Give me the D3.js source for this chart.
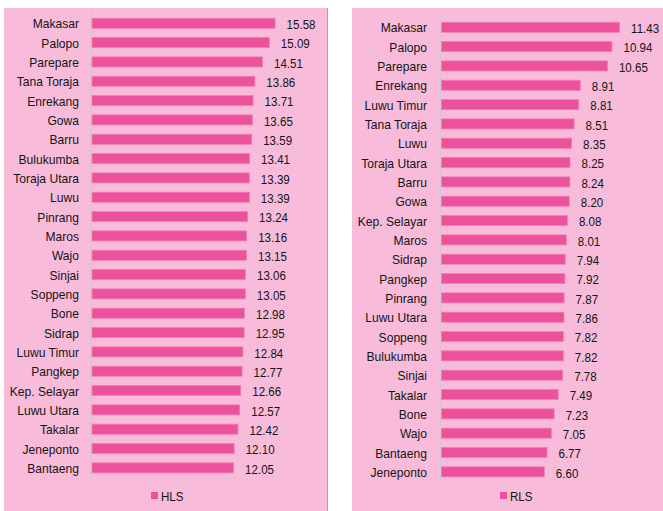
<!DOCTYPE html>
<html>
<head>
<meta charset="utf-8">
<title>HLS dan RLS</title>
<script src="https://cdn.jsdelivr.net/npm/d3@7"></script>
<style>
  body { margin: 0; background: #fff; }
  svg text { font-family: "Liberation Sans", Arial, sans-serif; font-size: 13px; fill: #141414; }
</style>
</head>
<body>
<div id="chart"></div>
<script>
// HLS (harapan lama sekolah) per kabupaten/kota
var hlsNames = ["Makasar", "Palopo", "Parepare", "Tana Toraja", "Enrekang", "Gowa", "Barru",
  "Bulukumba", "Toraja Utara", "Luwu", "Pinrang", "Maros", "Wajo", "Sinjai", "Soppeng", "Bone",
  "Sidrap", "Luwu Timur", "Pangkep", "Kep. Selayar", "Luwu Utara", "Takalar", "Jeneponto", "Bantaeng"];
var hlsValues = [15.58, 15.09, 14.51, 13.86, 13.71, 13.65, 13.59, 13.41, 13.39, 13.39, 13.24, 13.16,
  13.15, 13.06, 13.05, 12.98, 12.95, 12.84, 12.77, 12.66, 12.57, 12.42, 12.10, 12.05];

// RLS (rata-rata lama sekolah)
var rlsNames = ["Makasar", "Palopo", "Parepare", "Enrekang", "Luwu Timur", "Tana Toraja", "Luwu",
  "Toraja Utara", "Barru", "Gowa", "Kep. Selayar", "Maros", "Sidrap", "Pangkep", "Pinrang",
  "Luwu Utara", "Soppeng", "Bulukumba", "Sinjai", "Takalar", "Bone", "Wajo", "Bantaeng", "Jeneponto"];
var rlsValues = [11.43, 10.94, 10.65, 8.91, 8.81, 8.51, 8.35, 8.25, 8.24, 8.20, 8.08, 8.01, 7.94,
  7.92, 7.87, 7.86, 7.82, 7.82, 7.78, 7.49, 7.23, 7.05, 6.77, 6.60];

var bg = "#f8bcda", barColor = "#ec529c";

var svg = d3.select("#chart").append("svg")
    .attr("width", 663)
    .attr("height", 511);

// panel: box + where the plot sits inside
function drawPanel(names, values, key, p) {
  var g = svg.append("g");

  g.append("rect")
    .attr("x", p.left).attr("y", 8)
    .attr("width", p.right - p.left).attr("height", 503)
    .attr("fill", bg);

  var x = d3.scaleLinear()
      .domain([0, 1])
      .range([p.x0, p.x0 + p.perUnit]);
  var y = d3.scaleBand()
      .domain(names)
      .range([p.top, p.top + names.length * 19.33])
      .paddingInner(0.48)
      .paddingOuter(0.24);

  // category axis line
  g.append("line")
    .attr("x1", p.x0 - 0.5).attr("x2", p.x0 - 0.5)
    .attr("y1", p.top - 4).attr("y2", p.top + names.length * 19.33 + 1)
    .attr("stroke", "#d4c7cf").attr("stroke-width", 1.5);

  g.selectAll(".bar")
    .data(values)
    .enter().append("rect")
      .attr("class", "bar")
      .attr("x", x(0) + 0.5)
      .attr("y", function(d, i) { return y(names[i]); })
      .attr("width", function(d) { return x(d) - x(0); })
      .attr("height", y.bandwidth())
      .attr("fill", barColor)
      .attr("stroke", "#f27db5").attr("stroke-width", 0.8);

  g.selectAll(".cat")
    .data(names)
    .enter().append("text")
      .attr("text-anchor", "end")
      .attr("dy", "0.36em")
      .attr("transform", function(d) {
        return "translate(" + p.labelRight + "," + (y(d) + y.bandwidth() / 2 + 0.5) + ") scale(0.93,1)";
      })
      .text(function(d) { return d; });

  g.selectAll(".val")
    .data(values)
    .enter().append("text")
      .attr("dy", "0.36em")
      .attr("transform", function(d, i) {
        return "translate(" + (x(d) + 12) + "," + (y(names[i]) + y.bandwidth() / 2 + 1) + ") scale(0.89,1)";
      })
      .text(function(d) { return d.toFixed(2); });

  // legend
  g.append("rect")
    .attr("x", p.legendX).attr("y", 492)
    .attr("width", 7).attr("height", 7)
    .attr("fill", barColor);
  g.append("text")
    .attr("dy", "0.36em")
    .attr("transform", "translate(" + (p.legendX + 10) + ",496) scale(0.89,1)")
    .text(key);

  return g;
}

drawPanel(hlsNames, hlsValues, "HLS",
  { left: 4, right: 327, x0: 91.5, perUnit: 11.75, top: 13.6, labelRight: 79, legendX: 151 });
// thin green edge on the right of the first box
svg.append("line")
  .attr("x1", 327.5).attr("x2", 327.5).attr("y1", 8).attr("y2", 511)
  .attr("stroke", "#8cc63f").attr("stroke-width", 1);

drawPanel(rlsNames, rlsValues, "RLS",
  { left: 352, right: 663, x0: 441, perUnit: 15.58, top: 17.6, labelRight: 427, legendX: 500 });
</script>
</body>
</html>
